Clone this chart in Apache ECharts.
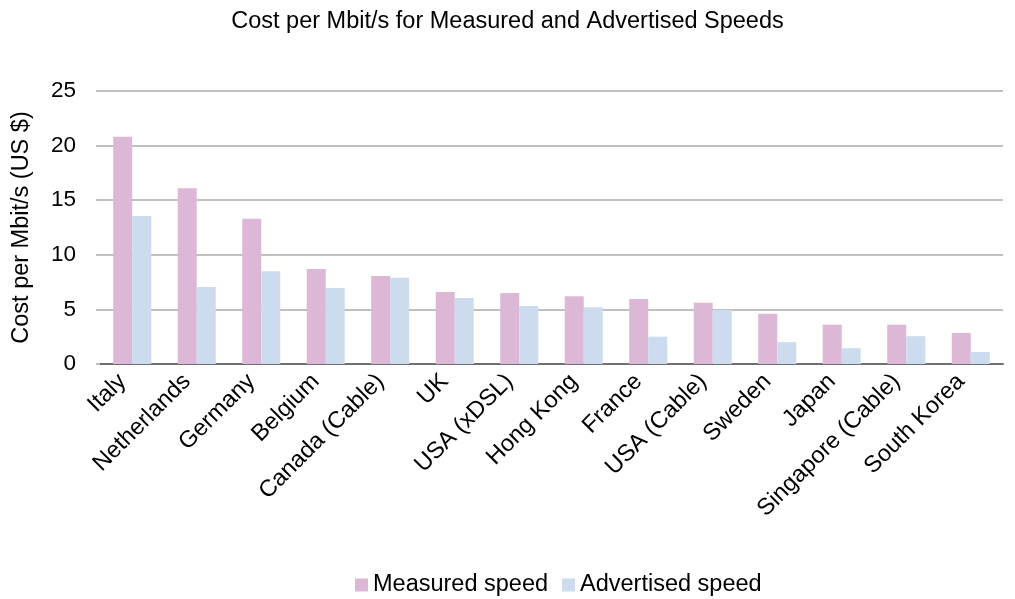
<!DOCTYPE html>
<html><head><meta charset="utf-8">
<script src="https://cdn.jsdelivr.net/npm/echarts@6/dist/echarts.min.js"></script>
<style>html,body{margin:0;padding:0;background:#fff}#c{width:1015px;height:599px}</style>
</head><body><div id="c"></div>
<script>
const categories = ["Italy","Netherlands","Germany","Belgium","Canada (Cable)","UK","USA (xDSL)","Hong Kong","France","USA (Cable)","Sweden","Japan","Singapore (Cable)","South Korea"];
const measured = [20.8,16.1,13.3,8.7,8.05,6.6,6.5,6.2,5.95,5.6,4.6,3.6,3.6,2.85];
const advertised = [13.55,7.05,8.5,6.95,7.9,6.05,5.3,5.2,2.5,4.95,2.0,1.45,2.55,1.1];
const yTicks = [0,5,10,15,20,25];
const F = 'Liberation Sans, Arial, sans-serif';
const chart = echarts.init(document.getElementById('c'));
chart.setOption({
  animation:false,
  title:{text:'Cost per Mbit/s for Measured and Advertised Speeds',left:'center',top:5,textStyle:{fontFamily:F,fontSize:23.5,fontWeight:'normal',color:'#000'}},
  legend:{top:568,left:350,itemWidth:13,itemHeight:13,itemGap:14,icon:'rect',textStyle:{fontFamily:F,fontSize:23.5,color:'#000'},data:['Measured speed','Advertised speed']},
  grid:{left:100,right:12,top:91,bottom:235},
  xAxis:{type:'category',data:categories,axisTick:{show:false},axisLine:{lineStyle:{color:'#707070',width:2}},
    axisLabel:{rotate:45,interval:0,fontFamily:F,fontSize:23.5,color:'#000',margin:4,padding:[0,14,0,0]}},
  yAxis:{type:'value',min:yTicks[0],max:yTicks[yTicks.length-1],interval:5,name:'Cost per Mbit/s (US $)',nameLocation:'middle',nameGap:66,
    nameTextStyle:{fontFamily:F,fontSize:23.5,color:'#000'},
    axisLine:{show:false},axisTick:{show:true,length:4,lineStyle:{color:'#bfbfbf',width:2}},
    axisLabel:{fontFamily:F,fontSize:22.5,color:'#000',margin:24},
    splitLine:{lineStyle:{color:'#c0c0c0',width:2}}},
  series:[
    {name:'Measured speed',type:'bar',data:measured,barGap:0,barCategoryGap:'41%',itemStyle:{color:'#dcb8d6'}},
    {name:'Advertised speed',type:'bar',data:advertised,itemStyle:{color:'#ccdcee'}}
  ]
});
</script></body></html>
